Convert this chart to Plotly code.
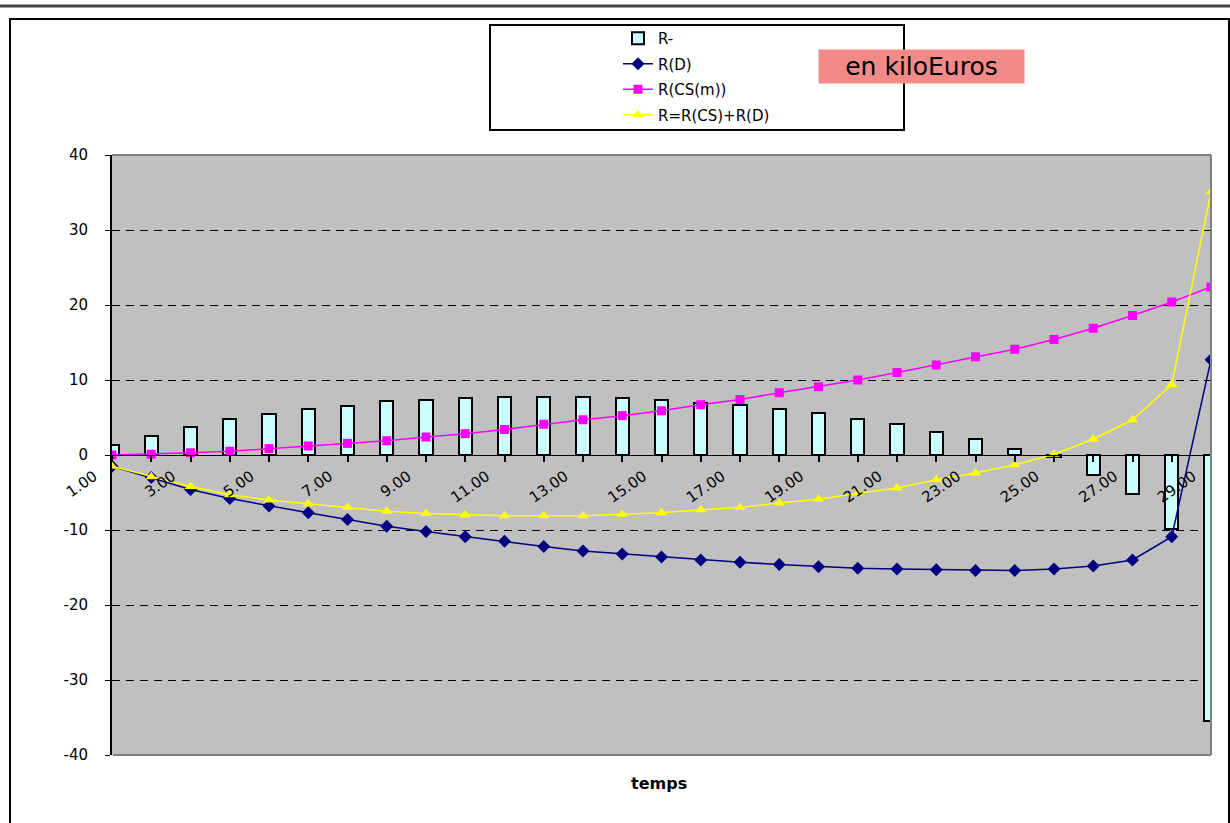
import plotly.graph_objects as go

# Periods on the category axis and the labels shown under them
periods = [1, 2, 3, 4, 5, 6, 7, 8, 9, 10, 11, 12, 13, 14, 15,
           16, 17, 18, 19, 20, 21, 22, 23, 24, 25, 26, 27, 28, 29]
tick_labels = ["1.00", "", "3.00", "", "5.00", "", "7.00", "", "9.00", "",
               "11.00", "", "13.00", "", "15.00", "", "17.00", "", "19.00", "",
               "21.00", "", "23.00", "", "25.00", "", "27.00", "", "29.00"]
y_ticks = [-40, -30, -20, -10, 0, 10, 20, 30, 40]
y_tick_labels = ["-40", "-30", "-20", "-10", "0", "10", "20", "30", "40"]

# Series values, in kiloEuros
r_minus = [1.3, 2.6, 3.7, 4.75, 5.5, 6.1, 6.6, 7.2, 7.35, 7.6, 7.7, 7.7, 7.7, 7.6, 7.3,
           7.0, 6.7, 6.1, 5.55, 4.75, 4.1, 3.1, 2.1, 0.85, -0.3, -2.6, -5.2, -9.9, -35.5]
r_d = [-1.5, -3.0, -4.6, -5.8, -6.8, -7.7, -8.6, -9.5, -10.2, -10.9, -11.5, -12.2, -12.8, -13.2, -13.6,
       -14.0, -14.3, -14.6, -14.9, -15.1, -15.2, -15.3, -15.4, -15.4, -15.2, -14.8, -14.0, -10.9, 12.7]
r_cs = [0.0, 0.1, 0.3, 0.5, 0.85, 1.2, 1.55, 1.9, 2.4, 2.85, 3.4, 4.1, 4.7, 5.25, 5.9,
        6.7, 7.4, 8.3, 9.1, 10.0, 11.0, 12.0, 13.1, 14.1, 15.4, 16.9, 18.6, 20.4, 22.4]
r_total = [-1.5, -2.9, -4.2, -5.3, -6.0, -6.5, -7.0, -7.5, -7.8, -8.0, -8.1, -8.1, -8.1, -7.9, -7.7,
           -7.3, -7.0, -6.4, -5.9, -5.1, -4.4, -3.3, -2.4, -1.3, 0.1, 2.1, 4.7, 9.4, 35.1]

W, H = 1230, 823
ML, MR, MT, MB = 112, 19, 155, 68
PW, PH = W - ML - MR, H - MT - MB
FONT = "DejaVu Sans"


def px(x):
    return (x - ML) / PW


def py(y):
    return (H - MB - y) / PH


fig = go.Figure()

fig.add_trace(go.Bar(
    x=periods, y=r_minus, name="R-", width=0.34,
    marker=dict(color="#CCFFFF", line=dict(color="black", width=2)),
    legendgroup="a",
))
fig.add_trace(go.Scatter(
    x=periods, y=r_d, name="R(D)", mode="lines+markers",
    line=dict(color="#000080", width=1.5),
    marker=dict(symbol="diamond", size=10, color="#000080"),
    legendgroup="b",
))
fig.add_trace(go.Scatter(
    x=periods, y=r_cs, name="R(CS(m))", mode="lines+markers",
    line=dict(color="#FF00FF", width=1.5),
    marker=dict(symbol="square", size=9, color="#FF00FF"),
    legendgroup="c",
))
fig.add_trace(go.Scatter(
    x=periods, y=r_total, name="R=R(CS)+R(D)", mode="lines+markers",
    line=dict(color="#FFFF00", width=1.5),
    marker=dict(symbol="triangle-up", size=10, color="#FFFF00"),
    legendgroup="d",
))

fig.update_layout(
    width=W, height=H,
    margin=dict(l=ML, r=MR, t=MT, b=MB, pad=0),
    paper_bgcolor="white",
    plot_bgcolor="#C0C0C0",
    font=dict(family=FONT, size=15, color="black"),
    bargap=0,
    legend=dict(
        x=px(618), y=py(22), xanchor="left", yanchor="top",
        bgcolor="rgba(0,0,0,0)", borderwidth=0,
        font=dict(family=FONT, size=15),
        traceorder="grouped", tracegroupgap=3,
    ),
    xaxis=dict(
        range=[1, 29], tickmode="array", tickvals=periods, ticktext=tick_labels,
        anchor="free", position=0.5,
        showline=True, linecolor="black", linewidth=1,
        ticks="outside", ticklen=6, tickwidth=2, tickcolor="black",
        tickangle=-35, ticklabelshift=-18, ticklabelstandoff=0,
        tickfont=dict(family=FONT, size=15),
        showgrid=False, zeroline=False,
    ),
    yaxis=dict(
        range=[-40, 40], tickmode="array", tickvals=y_ticks, ticktext=y_tick_labels,
        showline=True, linecolor="black", linewidth=2,
        ticks="outside", ticklen=5, tickwidth=1, tickcolor="black",
        ticklabelstandoff=14,
        tickfont=dict(family=FONT, size=15),
        showgrid=True, gridcolor="black", gridwidth=1, griddash="8px,6px",
        zeroline=False,
    ),
)

shapes = [
    # grey border of the plot area (top, right, bottom)
    dict(type="line", xref="paper", yref="paper", x0=0, x1=1, y0=1, y1=1,
         line=dict(color="#808080", width=2), layer="above"),
    dict(type="line", xref="paper", yref="paper", x0=1, x1=1, y0=0, y1=1,
         line=dict(color="#808080", width=2), layer="above"),
    dict(type="line", xref="paper", yref="paper", x0=px(113), x1=1, y0=0, y1=0,
         line=dict(color="#808080", width=2), layer="above"),
    # outer chart frame
    dict(type="rect", xref="paper", yref="paper",
         x0=px(10), x1=px(1229), y0=py(840), y1=py(19),
         line=dict(color="black", width=2), fillcolor="rgba(0,0,0,0)", layer="below"),
    # rule at the top of the page
    dict(type="line", xref="paper", yref="paper",
         x0=px(0), x1=px(W), y0=py(6), y1=py(6),
         line=dict(color="#444444", width=3), layer="below"),
    # legend box
    dict(type="rect", xref="paper", yref="paper",
         x0=px(490), x1=px(904), y0=py(130), y1=py(25),
         line=dict(color="black", width=2), fillcolor="white", layer="below"),
]
fig.update_layout(shapes=shapes)

fig.add_annotation(
    x=px(921), y=py(66.5), xref="paper", yref="paper",
    text="en kiloEuros", showarrow=False,
    font=dict(family=FONT, size=25, color="black"),
    bgcolor="#F28A8A", width=199, height=27, borderpad=3,
    xanchor="center", yanchor="middle",
)
fig.add_annotation(
    x=px(659), y=py(783), xref="paper", yref="paper",
    text="<b>temps</b>", showarrow=False,
    font=dict(family=FONT, size=16, color="black"),
    xanchor="center", yanchor="middle",
)

fig.write_html("out.html")
